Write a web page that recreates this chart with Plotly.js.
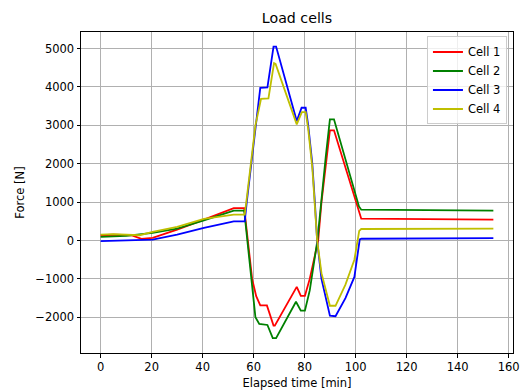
<!DOCTYPE html>
<html>
<head>
<meta charset="utf-8">
<script src="https://cdn.plot.ly/plotly-3.0.1.min.js"></script>
<style>html,body{margin:0;padding:0;background:#fff;}</style>
</head>
<body>
<div id="chart" style="width:522px;height:392px;"></div>
<script>
const seriesNames = ["Cell 1", "Cell 2", "Cell 3", "Cell 4"];

const time1 = [0, 5, 12, 16, 20.4, 30, 40.5, 52.2, 56.3, 57.7, 59.4, 61, 62.6, 65.2, 67.8, 68.3, 76.9, 78.5, 80.1, 82, 85.3, 86.6, 88.3, 89.9, 91.5, 101.3, 102.2, 154];
const force1 = [137, 150, 137, 44, 70, 284, 543, 845, 845, 0, -1000, -1450, -1690, -1690, -2216, -2216, -1207, -1440, -1440, -1000, 0, 1000, 2000, 2870, 2870, 716, 569, 543];

const time2 = [0, 10, 20.4, 30, 40.5, 52.2, 56.3, 57.6, 59.3, 60.7, 62.2, 65.4, 67.5, 68.8, 76.6, 78.5, 80.1, 82, 85, 86.6, 88.3, 89.9, 91.5, 101.3, 102.2, 154];
const force2 = [95, 120, 198, 310, 525, 776, 776, 0, -1000, -2000, -2172, -2200, -2543, -2543, -1595, -1828, -1828, -1300, 0, 1100, 2200, 3155, 3155, 887, 802, 776];

const time3 = [0, 10, 18.5, 20.4, 30, 40.5, 52.2, 56.5, 57.3, 60.7, 62.6, 65.4, 67.8, 68.8, 76.9, 78.8, 80.4, 81.4, 83, 84, 84.9, 86.6, 89.9, 92.1, 96, 99.5, 100.8, 101.6, 102.3, 154];
const force3 = [-17, 0, 8, 25, 150, 328, 500, 500, 1000, 3000, 3975, 3990, 5050, 5050, 3110, 3457, 3457, 3000, 2000, 1000, 0, -1000, -1960, -1973, -1500, -950, -400, 26, 45, 60];

const time4 = [0, 5, 15.3, 20.4, 30, 40.5, 52.2, 56.5, 57.3, 60.7, 62.9, 65.8, 68.0, 68.6, 76.9, 78.9, 80.4, 81.4, 83, 84, 84.9, 86.6, 89.9, 92.1, 96, 99.5, 101.4, 102.2, 154];
const force4 = [155, 165, 137, 225, 354, 561, 672, 672, 1100, 3000, 3690, 3700, 4620, 4600, 3025, 3345, 3345, 2900, 1900, 950, 0, -850, -1700, -1700, -1150, -500, 250, 300, 310];

const xTickVals = [0, 20, 40, 60, 80, 100, 120, 140, 160];
const yTickVals = [-2000, -1000, 0, 1000, 2000, 3000, 4000, 5000];

const colors = ["#ff0000", "#008000", "#0000ff", "#bfbf00"];
const times = [time1, time2, time3, time4];
const forces = [force1, force2, force3, force4];

const traces = seriesNames.map((n, i) => ({
  x: times[i], y: forces[i], name: n, type: "scatter", mode: "lines",
  line: {color: colors[i], width: 1.8}
}));

const font = {family: "DejaVu Sans", size: 11.5, color: "#000"};
const layout = {
  width: 522, height: 392,
  margin: {l: 81, r: 9.3, t: 32.3, b: 38.7, pad: 0},
  paper_bgcolor: "#fff", plot_bgcolor: "#fff",
  font: font,
  title: {text: "Load cells", font: {family: "DejaVu Sans", size: 14.2, color: "#000"},
          x: 0.5, xref: "paper", y: 1 - 18.3/392, yref: "container", yanchor: "middle"},
  showlegend: true,
  legend: {x: 0.986, xanchor: "right", y: 0.986, yanchor: "top",
           bgcolor: "rgba(255,255,255,0.8)", bordercolor: "#cccccc", borderwidth: 1,
           font: font, tracegroupgap: 0},
  xaxis: {range: [-7.7, 161.7], tickvals: xTickVals, ticks: "outside", ticklen: 3.5, tickwidth: 1,
          tickcolor: "#000", showline: true, linecolor: "#000", linewidth: 1, mirror: true,
          showgrid: true, gridcolor: "#b0b0b0", gridwidth: 1, zeroline: false,
          automargin: false, tickfont: font,
          title: {text: "Elapsed time [min]", font: font, standoff: 5}},
  yaxis: {range: [-2930, 5430], tickvals: yTickVals, ticks: "outside", ticklen: 3.5, tickwidth: 1,
          tickcolor: "#000", showline: true, linecolor: "#000", linewidth: 1, mirror: true,
          showgrid: true, gridcolor: "#b0b0b0", gridwidth: 1, zeroline: false,
          automargin: false, tickfont: font,
          title: {text: "Force [N]", font: font, standoff: 8}}
};

Plotly.newPlot("chart", traces, layout, {displayModeBar: false, staticPlot: true});
</script>
</body>
</html>
